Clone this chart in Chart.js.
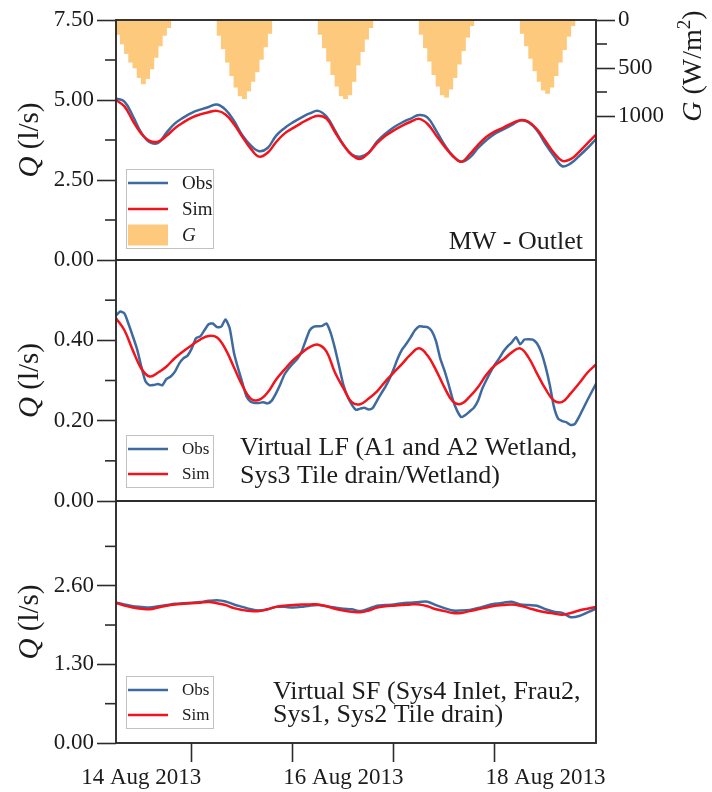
<!DOCTYPE html>
<html>
<head>
<meta charset="utf-8">
<script src="https://cdn.jsdelivr.net/npm/chart.js@4.4.0/dist/chart.umd.min.js"></script>
<style>
  body { margin: 0; background: #fff; }
  #wrap { position: relative; width: 712px; height: 792px; overflow: hidden; }
  canvas { position: absolute; left: 0; }
</style>
</head>
<body>
<div id="wrap">
  <canvas id="outlet" width="712" height="280" style="top:0px"></canvas>
  <canvas id="lf" width="712" height="281" style="top:240px"></canvas>
  <canvas id="sf" width="712" height="311" style="top:481px"></canvas>
</div>
<script>
// time axis: hours since 14 Aug 2013 00:00
const hours = [6, 8, 10, 12, 14, 16, 18, 20, 22, 24, 26, 28, 30, 32, 34, 36, 38, 40, 42, 44,
  46, 48, 50, 52, 54, 56, 58, 60, 62, 64, 66, 68, 70, 72, 74, 76, 78, 80, 82, 84,
  86, 88, 90, 92, 94, 96, 98, 100, 102, 104, 106, 108, 110, 112, 114, 116, 118, 120];
// hourly steps, used by the noisier LF observation
const hoursFine = [6, 7, 8, 9, 10, 11, 12, 13, 14, 15, 16, 17, 18, 19, 20, 21, 22, 23, 24, 25,
  26, 27, 28, 29, 30, 31, 32, 33, 34, 35, 36, 37, 38, 39, 40, 41, 42, 43, 44, 45,
  46, 47, 48, 49, 50, 51, 52, 53, 54, 55, 56, 57, 58, 59, 60, 61, 62, 63, 64, 65,
  66, 67, 68, 69, 70, 71, 72, 73, 74, 75, 76, 77, 78, 79, 80, 81, 82, 83, 84, 85,
  86, 87, 88, 89, 90, 91, 92, 93, 94, 95, 96, 97, 98, 99, 100, 101, 102, 103, 104, 105,
  106, 107, 108, 109, 110, 111, 112, 113, 114, 115, 116, 117, 118, 119, 120];

const dateLabels = ['14 Aug 2013', '16 Aug 2013', '18 Aug 2013'];
const labelHours = [12, 60, 108];
const midnightHours = [24, 48, 72, 96];

// MW - Outlet (l/s)
const outletObs = [5.05, 4.95, 4.50, 3.98, 3.68, 3.66, 3.98, 4.27, 4.45, 4.60, 4.70, 4.78, 4.86, 4.70, 4.35, 3.90, 3.58, 3.40, 3.50, 3.88,
  4.12, 4.30, 4.45, 4.58, 4.66, 4.48, 4.05, 3.60, 3.30, 3.23, 3.35, 3.70, 3.95, 4.15, 4.30, 4.42, 4.53, 4.45, 4.05, 3.60,
  3.25, 3.07, 3.20, 3.50, 3.75, 3.95, 4.08, 4.22, 4.36, 4.30, 4.05, 3.62, 3.25, 2.93, 3.02, 3.25, 3.50, 3.78];
const outletSim = [5.00, 4.80, 4.35, 3.95, 3.72, 3.70, 3.88, 4.12, 4.30, 4.45, 4.55, 4.62, 4.66, 4.55, 4.25, 3.85, 3.48, 3.23, 3.35, 3.68,
  3.95, 4.12, 4.28, 4.42, 4.51, 4.42, 4.00, 3.60, 3.28, 3.16, 3.35, 3.65, 3.88, 4.05, 4.20, 4.32, 4.41, 4.25, 3.90, 3.55,
  3.25, 3.07, 3.30, 3.60, 3.85, 4.02, 4.14, 4.27, 4.37, 4.32, 4.08, 3.72, 3.35, 3.10, 3.15, 3.38, 3.65, 3.92];

// global radiation G (W/m2), hourly from 06:00 each day
const gStartHours = [6, 30, 54, 78, 102];
const gDay1 = [150, 250, 350, 440, 500, 600, 665, 610, 510, 390, 270, 160, 80];
const gDay2 = [160, 300, 440, 580, 700, 790, 820, 740, 640, 540, 410, 280, 140];
const gDay3 = [150, 290, 430, 570, 690, 790, 820, 780, 640, 470, 330, 200, 80];
const gDay4 = [150, 290, 430, 570, 690, 780, 805, 720, 600, 460, 320, 180, 60];
const gDay5 = [140, 270, 400, 530, 640, 730, 765, 700, 580, 440, 310, 170, 60];

// Virtual LF (l/s)
const lfObs = [0.462, 0.472, 0.467, 0.440, 0.410, 0.378, 0.335, 0.298, 0.288, 0.289, 0.291, 0.288, 0.304, 0.310, 0.322, 0.342, 0.355, 0.362, 0.380, 0.405,
  0.410, 0.425, 0.440, 0.442, 0.433, 0.434, 0.452, 0.430, 0.370, 0.330, 0.295, 0.260, 0.247, 0.244, 0.244, 0.246, 0.243, 0.250, 0.268, 0.290,
  0.315, 0.330, 0.342, 0.353, 0.370, 0.398, 0.425, 0.434, 0.435, 0.436, 0.442, 0.418, 0.380, 0.335, 0.289, 0.260, 0.240, 0.227, 0.230, 0.232,
  0.228, 0.232, 0.250, 0.268, 0.285, 0.305, 0.330, 0.357, 0.378, 0.392, 0.408, 0.425, 0.435, 0.434, 0.433, 0.423, 0.398, 0.355, 0.325, 0.290,
  0.252, 0.225, 0.209, 0.214, 0.223, 0.232, 0.250, 0.280, 0.302, 0.322, 0.340, 0.355, 0.372, 0.385, 0.395, 0.408, 0.390, 0.402, 0.403, 0.402,
  0.392, 0.370, 0.335, 0.290, 0.235, 0.205, 0.199, 0.196, 0.189, 0.192, 0.210, 0.231, 0.252, 0.272, 0.292];
const lfSim = [0.455, 0.425, 0.375, 0.330, 0.310, 0.320, 0.335, 0.356, 0.373, 0.388, 0.402, 0.411, 0.407, 0.378, 0.333, 0.288, 0.255, 0.252, 0.270, 0.302,
  0.327, 0.350, 0.368, 0.383, 0.389, 0.372, 0.320, 0.281, 0.246, 0.241, 0.255, 0.273, 0.298, 0.320, 0.342, 0.365, 0.380, 0.362, 0.326, 0.283,
  0.248, 0.242, 0.260, 0.284, 0.315, 0.338, 0.352, 0.370, 0.380, 0.357, 0.317, 0.279, 0.250, 0.247, 0.268, 0.293, 0.320, 0.340];

// Virtual SF (l/s)
const sfObs = [2.32, 2.29, 2.26, 2.25, 2.24, 2.26, 2.28, 2.30, 2.31, 2.32, 2.33, 2.35, 2.36, 2.34, 2.29, 2.25, 2.21, 2.19, 2.21, 2.25,
  2.25, 2.24, 2.25, 2.27, 2.28, 2.26, 2.24, 2.22, 2.21, 2.18, 2.22, 2.27, 2.28, 2.29, 2.31, 2.32, 2.33, 2.335, 2.28, 2.23,
  2.19, 2.19, 2.20, 2.23, 2.27, 2.30, 2.32, 2.335, 2.29, 2.28, 2.27, 2.21, 2.17, 2.15, 2.08, 2.10, 2.16, 2.22];
const sfSim = [2.32, 2.27, 2.24, 2.22, 2.21, 2.24, 2.27, 2.29, 2.30, 2.31, 2.32, 2.33, 2.31, 2.28, 2.23, 2.20, 2.18, 2.18, 2.21, 2.25,
  2.27, 2.28, 2.29, 2.29, 2.29, 2.26, 2.22, 2.19, 2.17, 2.16, 2.19, 2.24, 2.26, 2.27, 2.28, 2.29, 2.29, 2.26, 2.21, 2.18,
  2.15, 2.15, 2.18, 2.21, 2.24, 2.27, 2.28, 2.29, 2.27, 2.23, 2.19, 2.16, 2.14, 2.12, 2.15, 2.19, 2.22, 2.25];

// y ticks
const outletTicks = [0, 2.5, 5, 7.5], outletMinor = [1.25, 3.75, 6.25];
const gTicks = [0, 500, 1000], gMinor = [250, 750];
const lfTicks = [0, 0.2, 0.4], lfMinor = [0.1, 0.3, 0.5];
const sfTicks = [0, 1.3, 2.6], sfMinor = [0.65, 1.95, 3.25];

const serif = "'Liberation Serif', 'Times New Roman', serif";
const ink = '#1c1c1c';
const frameColor = '#2c2c2c';
const obsColor = '#3e6a9f';
const simColor = '#f2141c';
const gColor = '#fdc97c';

const pts = (xs, ys) => xs.map((x, i) => ({x: x, y: ys[i]}));

function lineSet(label, xs, ys, color, order, tension) {
  return {label: label, data: pts(xs, ys), borderColor: color, borderWidth: 2.5,
    pointRadius: 0, tension: tension, order: order, yAxisID: 'y'};
}

function tickGrid() {
  return {drawOnChartArea: false, drawTicks: true, tickLength: 19, tickWidth: 1.6, tickColor: frameColor};
}

function leftAxis(max, major) {
  return {
    position: 'left', min: 0, max: max,
    border: {display: false},
    grid: tickGrid(),
    ticks: {font: {family: serif, size: 23}, color: ink, padding: 3, callback: v => v.toFixed(2)},
    afterBuildTicks: s => { s.ticks = major.map(v => ({value: v})); },
    afterFit: s => { s.width = 116; }
  };
}

function timeAxis(show) {
  return {
    type: 'linear', min: 6, max: 120, display: show, offset: false,
    border: {display: false},
    grid: {drawOnChartArea: false, drawTicks: true, tickLength: 19, tickWidth: 1.6, offset: false,
      tickColor: c => (c.tick && midnightHours.includes(c.tick.value)) ? frameColor : 'rgba(0,0,0,0)'},
    ticks: {autoSkip: false, maxRotation: 0, padding: 2, font: {family: serif, size: 23}, color: ink,
      callback: v => { const i = labelHours.indexOf(v); return i >= 0 ? dateLabels[i] : ''; }},
    afterBuildTicks: s => {
      s.ticks = labelHours.concat(midnightHours).sort((a, b) => a - b).map(v => ({value: v}));
    },
    afterFit: s => { s.height = show ? 49 : 0; }
  };
}

// text made of parts, rotated to read bottom-up
function drawRotated(ctx, cx, cy, parts) {
  let total = 0;
  parts.forEach(p => { ctx.font = p.font; p.w = ctx.measureText(p.text).width; total += p.w; });
  ctx.save();
  ctx.translate(cx, cy);
  ctx.rotate(-Math.PI / 2);
  ctx.textBaseline = 'middle';
  ctx.textAlign = 'left';
  ctx.fillStyle = ink;
  let x = -total / 2;
  parts.forEach(p => { ctx.font = p.font; ctx.fillText(p.text, x, p.dy || 0); x += p.w; });
  ctx.restore();
}

function panelPlugin(cfg) {
  return {
    id: 'panel',
    afterDraw(chart) {
      const ctx = chart.ctx, a = chart.chartArea;
      ctx.save();
      ctx.strokeStyle = frameColor;
      ctx.lineWidth = 1.9;
      ctx.strokeRect(a.left, a.top, a.right - a.left, a.bottom - a.top);

      // minor ticks
      ctx.lineWidth = 1.6;
      cfg.minor.forEach(m => {
        const s = chart.scales[m.id];
        m.values.forEach(v => {
          const y = s.getPixelForValue(v);
          ctx.beginPath();
          if (s.position === 'left') { ctx.moveTo(a.left - 11, y); ctx.lineTo(a.left, y); }
          else { ctx.moveTo(a.right, y); ctx.lineTo(a.right + 11, y); }
          ctx.stroke();
        });
      });

      // legend
      const L = cfg.legend;
      const bx = a.left + 10, by = a.top + L.top;
      ctx.fillStyle = '#fff';
      ctx.fillRect(bx, by, 87, L.height);
      ctx.strokeStyle = '#c2c2c2';
      ctx.lineWidth = 1;
      ctx.strokeRect(bx + 0.5, by + 0.5, 87, L.height);
      chart.data.datasets.forEach((ds, i) => {
        const ry = by + 14 + i * L.gap;
        if (ds.type === 'bar') {
          ctx.fillStyle = ds.backgroundColor;
          ctx.fillRect(bx + 2, ry - 10.5, 40, 21);
        } else {
          ctx.strokeStyle = ds.borderColor;
          ctx.lineWidth = 2.5;
          ctx.beginPath(); ctx.moveTo(bx + 2, ry); ctx.lineTo(bx + 42, ry); ctx.stroke();
        }
        ctx.fillStyle = ink;
        ctx.font = (ds.type === 'bar' ? 'italic ' : '') + L.font + 'px ' + serif;
        ctx.textBaseline = 'middle';
        ctx.textAlign = 'left';
        ctx.fillText(ds.label, bx + 56, ry + 1);
      });

      // panel name
      const N = cfg.name;
      ctx.font = '26px ' + serif;
      ctx.fillStyle = ink;
      ctx.textBaseline = 'alphabetic';
      ctx.textAlign = N.align;
      N.lines.forEach((t, i) => {
        const x = N.align === 'right' ? a.right - N.dx : a.left + N.dx;
        ctx.fillText(t, x, a.bottom + N.baselines[i]);
      });
      ctx.restore();

      // axis titles
      drawRotated(ctx, 30, (a.top + a.bottom) / 2, [
        {text: 'Q', font: 'italic 29px ' + serif},
        {text: ' (l/s)', font: '29px ' + serif}
      ]);
      if (chart.scales.y2) {
        drawRotated(ctx, 694, chart.scales.y2.getPixelForValue(480), [
          {text: 'G', font: 'italic 28px ' + serif},
          {text: ' (W/m', font: '28px ' + serif},
          {text: '2', font: '19px ' + serif, dy: -9},
          {text: ')', font: '28px ' + serif}
        ]);
      }
    }
  };
}

const gPoints = [gDay1, gDay2, gDay3, gDay4, gDay5].flatMap((d, k) =>
  d.map((v, i) => ({x: gStartHours[k] + i + 0.5, y: v})));

const baseOptions = (padding, scales) => ({
  responsive: false,
  animation: false,
  events: [],
  layout: {padding: padding},
  plugins: {legend: {display: false}, tooltip: {enabled: false}},
  scales: scales
});

new Chart(document.getElementById('outlet'), {
  type: 'line',
  data: {datasets: [
    lineSet('Obs', hours, outletObs, obsColor, 1, 0.4),
    lineSet('Sim', hours, outletSim, simColor, 0, 0.4),
    {type: 'bar', label: 'G', data: gPoints, yAxisID: 'y2', backgroundColor: gColor,
      borderWidth: 0, barPercentage: 1, categoryPercentage: 1, order: 2}
  ]},
  options: baseOptions({top: 20, bottom: 20}, {
    x: timeAxis(false),
    y: leftAxis(7.5, outletTicks),
    y2: {
      position: 'right', reverse: true, min: 0, max: 2500,
      border: {display: false},
      grid: tickGrid(),
      ticks: {font: {family: serif, size: 23}, color: ink, padding: 3, callback: v => String(v)},
      afterBuildTicks: s => { s.ticks = gTicks.map(v => ({value: v})); },
      afterFit: s => { s.width = 116; }
    }
  }),
  plugins: [panelPlugin({
    minor: [{id: 'y', values: outletMinor}, {id: 'y2', values: gMinor}],
    legend: {top: 149, height: 79, gap: 26, font: 19},
    name: {lines: ['MW - Outlet'], align: 'right', dx: 13, baselines: [-11]}
  })]
});

new Chart(document.getElementById('lf'), {
  type: 'line',
  data: {datasets: [
    lineSet('Obs', hoursFine, lfObs, obsColor, 1, 0.2),
    lineSet('Sim', hours, lfSim, simColor, 0, 0.4)
  ]},
  options: baseOptions({top: 20, bottom: 20, right: 116}, {
    x: timeAxis(false),
    y: leftAxis(0.6, lfTicks)
  }),
  plugins: [panelPlugin({
    minor: [{id: 'y', values: lfMinor}],
    legend: {top: 175, height: 52, gap: 25, font: 17},
    name: {lines: ['Virtual LF (A1 and A2 Wetland,', 'Sys3 Tile drain/Wetland)'], align: 'left', dx: 124, baselines: [-46, -18]}
  })]
});

new Chart(document.getElementById('sf'), {
  type: 'line',
  data: {datasets: [
    lineSet('Obs', hours, sfObs, obsColor, 1, 0.3),
    lineSet('Sim', hours, sfSim, simColor, 0, 0.4)
  ]},
  options: baseOptions({top: 20, bottom: 0, right: 116}, {
    x: timeAxis(true),
    y: leftAxis(4.0, sfTicks)
  }),
  plugins: [panelPlugin({
    minor: [{id: 'y', values: sfMinor}],
    legend: {top: 175, height: 52, gap: 25, font: 17},
    name: {lines: ['Virtual SF (Sys4 Inlet, Frau2,', 'Sys1, Sys2 Tile drain)'], align: 'left', dx: 157, baselines: [-44, -21]}
  })]
});
</script>
</body>
</html>
